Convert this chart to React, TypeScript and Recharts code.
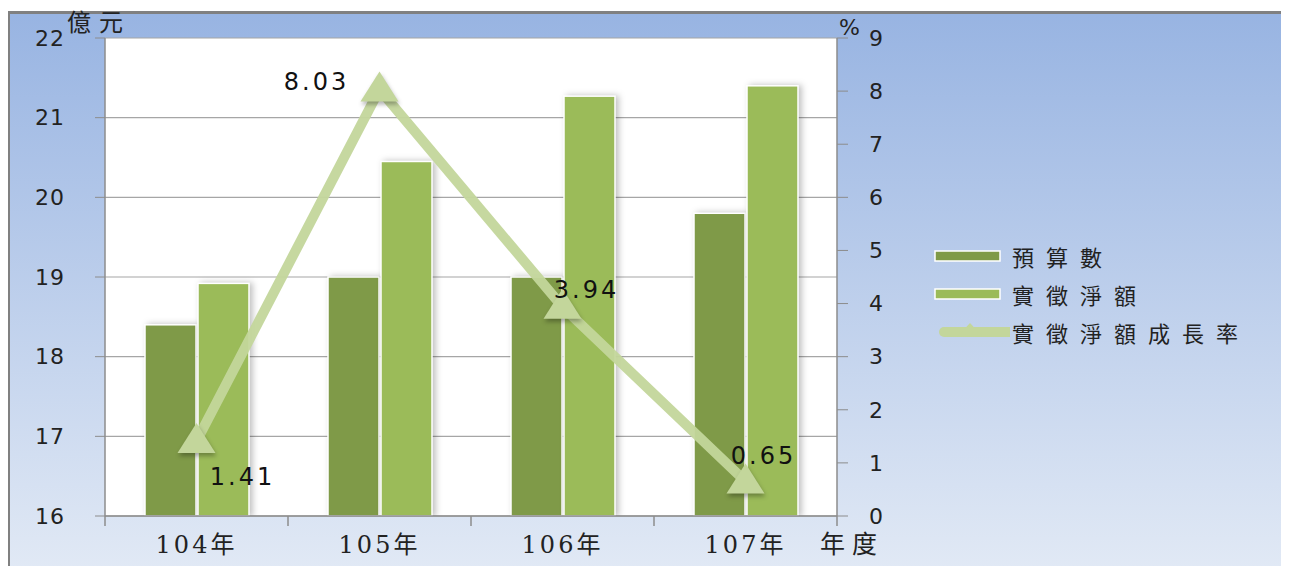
import { ComposedChart, Bar, Line, XAxis, YAxis, CartesianGrid, LabelList } from 'recharts';

const CATEGORIES = ['104年', '105年', '106年', '107年'];
const BUDGET = [18.4, 19.0, 19.0, 19.8]; // 預算數 (億元)
const ACTUAL = [18.92, 20.45, 21.27, 21.4]; // 實徵淨額 (億元)
const GROWTH = [1.41, 8.03, 3.94, 0.65]; // 實徵淨額成長率 (%)
const LEFT_TICKS = [16, 17, 18, 19, 20, 21, 22];
const RIGHT_TICKS = [0, 1, 2, 3, 4, 5, 6, 7, 8, 9];

const SERIES = [
  { key: 'budget', name: '預算數', color: '#7f9a48' },
  { key: 'actual', name: '實徵淨額', color: '#9bbb59' },
  { key: 'growth', name: '實徵淨額成長率', color: '#c3d69b' },
];

const data = CATEGORIES.map((c, i) => ({
  name: c,
  budget: BUDGET[i],
  actual: ACTUAL[i],
  growth: GROWTH[i],
}));

const W = 1272;
const H = 555;
const M = { top: 24, right: 385, left: 0, bottom: 0 };
const LEFT_W = 95;
const RIGHT_W = 60;
const PLOT_W = W - M.left - M.right - LEFT_W - RIGHT_W;
const HALF_BAND = PLOT_W / CATEGORIES.length / 2;

// where each growth label sits relative to its point
const LABEL_OFFSETS = [
  [46, 36],
  [-63, -8],
  [24, -17],
  [18, -25],
];

const numFont = '"DejaVu Sans", Verdana, sans-serif';
const cjkFont = '"DejaVu Serif", "Noto Sans CJK TC", serif';

function XTick({ x, y, payload, index }: any) {
  const last = index === CATEGORIES.length - 1;
  return (
    <g>
      <line x1={x - HALF_BAND} x2={x - HALF_BAND} y1={y} y2={y + 10} stroke="#8c8c8c" strokeWidth={1.5} />
      {last && <line x1={x + HALF_BAND} x2={x + HALF_BAND} y1={y} y2={y + 10} stroke="#8c8c8c" strokeWidth={1.5} />}
      <text x={x} y={y + 37} textAnchor="middle" fontSize={24} fontFamily={cjkFont} fill="#222" letterSpacing={3}>
        {payload.value}
      </text>
    </g>
  );
}

function ShadowBar(props: any) {
  const { x, y, width, height, fill } = props;
  if (!height || height <= 0) return null;
  return (
    <rect
      x={x}
      y={y}
      width={width}
      height={height}
      fill={fill}
      stroke="#ffffff"
      strokeWidth={1.5}
      style={{ filter: 'drop-shadow(3px 0px 3px rgba(0,0,0,0.25))' }}
    />
  );
}

function Triangle({ cx, cy }: any) {
  if (cx == null || cy == null) return null;
  return (
    <path
      d={`M${cx},${cy - 18} L${cx + 19},${cy + 12} L${cx - 19},${cy + 12} Z`}
      fill="#c3d69b"
      style={{ filter: 'drop-shadow(1px 3px 2px rgba(0,0,0,0.3))' }}
    />
  );
}

function GrowthLabel({ x, y, index, value }: any) {
  const [dx, dy] = LABEL_OFFSETS[index] || [0, -12];
  return (
    <text x={x + dx} y={y + dy} textAnchor="middle" dominantBaseline="central" fontSize={24} fontFamily={numFont} fill="#111" letterSpacing={3}>
      {value.toFixed(2)}
    </text>
  );
}

const tickStyle = { fontSize: 22, fontFamily: numFont, fill: '#222', letterSpacing: 1 };

export default function App() {
  return (
    <div
      style={{
        position: 'relative',
        left: -1,
        top: 3,
        width: W,
        height: H,
        border: '3px solid #808080',
        borderBottom: 'none',
        background: 'linear-gradient(#98b4e2, #e1e9f5)',
      }}
    >
      <ComposedChart width={W} height={H} data={data} margin={M} barGap={2} barSize={51}>
        <CartesianGrid vertical={false} stroke="#a6a6a6" strokeWidth={1.2} fill="#ffffff" yAxisId="left" />
        <XAxis
          dataKey="name"
          height={H - 502}
          tick={<XTick />}
          tickLine={false}
          tickSize={0}
          tickMargin={0}
          interval={0}
          axisLine={{ stroke: '#8c8c8c', strokeWidth: 1.5 }}
        />
        <YAxis
          yAxisId="left"
          domain={[16, 22]}
          ticks={LEFT_TICKS}
          width={LEFT_W}
          tickSize={10}
          tickMargin={30}
          axisLine={{ stroke: '#8c8c8c', strokeWidth: 1.5 }}
          tickLine={{ stroke: '#8c8c8c' }}
          tick={tickStyle}
          allowDataOverflow
        />
        <YAxis
          yAxisId="right"
          orientation="right"
          domain={[0, 9]}
          ticks={RIGHT_TICKS}
          width={RIGHT_W}
          tickSize={11}
          tickMargin={21}
          axisLine={{ stroke: '#8c8c8c', strokeWidth: 1.5 }}
          tickLine={{ stroke: '#8c8c8c' }}
          tick={tickStyle}
        />
        <Bar yAxisId="left" dataKey="budget" name={SERIES[0].name} fill={SERIES[0].color} shape={<ShadowBar />} isAnimationActive={false} />
        <Bar yAxisId="left" dataKey="actual" name={SERIES[1].name} fill={SERIES[1].color} shape={<ShadowBar />} isAnimationActive={false} />
        <Line
          yAxisId="right"
          dataKey="growth"
          name={SERIES[2].name}
          stroke={SERIES[2].color}
          strokeWidth={10}
          strokeOpacity={0.95}
          dot={<Triangle />}
          activeDot={false}
          isAnimationActive={false}
        >
          <LabelList dataKey="growth" content={<GrowthLabel />} />
        </Line>
      </ComposedChart>

      <div style={{ position: 'absolute', left: 57, top: -3, fontSize: 24, lineHeight: 1, fontFamily: cjkFont, color: '#222', letterSpacing: 8 }}>億元</div>
      <div style={{ position: 'absolute', left: 829, top: 3, fontSize: 22, lineHeight: 1, fontFamily: numFont, color: '#222' }}>%</div>
      <div style={{ position: 'absolute', left: 810, top: 518, fontSize: 25, lineHeight: 1, fontFamily: cjkFont, color: '#222', letterSpacing: 7 }}>年度</div>

      <div style={{ position: 'absolute', left: 920, top: 223, fontFamily: cjkFont, fontSize: 22, color: '#222' }}>
        {SERIES.map((s, i) => (
          <div key={s.key} style={{ display: 'flex', alignItems: 'center', height: 38 }}>
            {i < 2 ? (
              <svg width={80} height={20}>
                <rect x={5} y={5} width={65} height={10} fill={s.color} stroke="#fff" strokeWidth={1.5} />
              </svg>
            ) : (
              <svg width={80} height={20}>
                <line x1={14} x2={82} y1={10} y2={10} stroke={s.color} strokeWidth={10} strokeLinecap="round" />
                <path d="M40,1 L53,15 L27,15 Z" fill={s.color} />
              </svg>
            )}
            <span style={{ marginLeft: 2, letterSpacing: 12 }}>{s.name}</span>
          </div>
        ))}
      </div>
    </div>
  );
}
